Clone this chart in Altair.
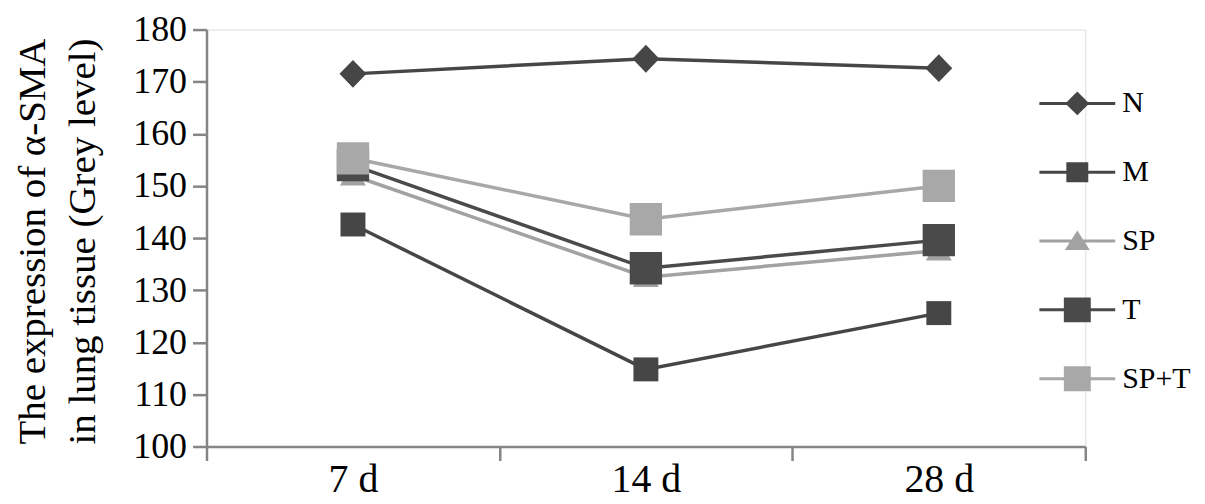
import altair as alt
import pandas as pd

days = ["7 d", "14 d", "28 d"]
series = ["N", "M", "SP", "T", "SP+T"]
vals_N = [171.5, 174.4, 172.6]
vals_M = [142.6, 114.8, 125.6]
vals_SP = [152.0, 132.5, 137.6]
vals_T = [154.0, 134.2, 139.6]
vals_SPT = [155.3, 143.6, 150.0]

colors = ["#464646", "#464646", "#a2a2a2", "#4a4a4a", "#a8a8a8"]

rows = []
for s, vals in zip(series, [vals_N, vals_M, vals_SP, vals_T, vals_SPT]):
    for d, v in zip(days, vals):
        rows.append({"day": d, "series": s, "key": s, "value": v})
df = pd.DataFrame(rows)

# marker shapes on the chart (custom SVG paths, unit = 10px at size 400)
chart_shapes = [
    "M0,-1.4L1.35,0L0,1.4L-1.35,0Z",
    "M-1.25,-1.2H1.25V1.2H-1.25Z",
    "M0,-1.2L1.3,1L-1.3,1Z",
    "M-1.62,-1.62H1.62V1.62H-1.62Z",
    "M-1.62,-1.62H1.62V1.62H-1.62Z",
]
seg = "M-3.8,-0.15H3.8V0.15H-3.8Z "
legend_shapes = [
    seg + "M0,-1.2L1.2,0L0,1.2L-1.2,0Z",
    seg + "M-1.1,-1H1.1V1H-1.1Z",
    seg + "M0,-1.05L1.25,0.9L-1.25,0.9Z",
    seg + "M-1.35,-1.25H1.35V1.25H-1.35Z",
    seg + "M-1.35,-1.25H1.35V1.25H-1.35Z",
]

FONT = "Liberation Serif"

x_enc = alt.X(
    "day:N",
    sort=days,
    scale=alt.Scale(type="band", paddingInner=0, paddingOuter=0),
    axis=alt.Axis(
        title=None, labelAngle=0, labelFont=FONT, labelFontSize=40,
        labelColor="#000000", labelPadding=-1, tickBand="extent",
        tickSize=14, tickColor="#858585", tickWidth=2.5,
        domainColor="#858585", domainWidth=2.5, grid=False,
    ),
)
y_enc = alt.Y(
    "value:Q",
    scale=alt.Scale(domain=[100, 180], nice=False, zero=False),
    axis=alt.Axis(
        values=list(range(100, 181, 10)),
        title=["The expression of α-SMA", "in lung tissue (Grey level)"],
        titleFont=FONT, titleFontSize=39, titleFontWeight="normal",
        titleColor="#000000", titleLineHeight=50, titleAngle=-90,
        titleX=-154, titleY=212, titleAlign="center", titleBaseline="bottom",
        labelFont=FONT, labelFontSize=36, labelColor="#000000",
        labelPadding=6, tickSize=14, tickColor="#858585", tickWidth=2.5,
        domainColor="#858585", domainWidth=2.5, grid=False,
    ),
)

color_main = alt.Color("series:N", scale=alt.Scale(domain=series, range=colors), legend=None)

lines = alt.Chart(df).mark_line(strokeWidth=3.5).encode(
    x=x_enc, y=y_enc, color=color_main, detail="series:N"
)

points = alt.Chart(df).mark_point(filled=True, size=400, opacity=1, strokeWidth=0).encode(
    x=x_enc, y=y_enc, color=color_main,
    shape=alt.Shape("series:N", scale=alt.Scale(domain=series, range=chart_shapes), legend=None),
)

leg = alt.Chart(df).transform_filter("false").mark_point(
    filled=True, size=400, opacity=1, strokeWidth=0
).encode(
    color=alt.Color("key:N", scale=alt.Scale(domain=series, range=colors), legend=alt.Legend(
        title=None, orient="none", legendX=858, legendY=59, padding=0,
        labelFont=FONT, labelFontSize=30, labelColor="#000000",
        labelOffset=30, rowPadding=39, symbolStrokeWidth=0, symbolOpacity=1,
        symbolSize=400,
    )),
    shape=alt.Shape("key:N", scale=alt.Scale(domain=series, range=legend_shapes)),
)

chart = alt.layer(lines, points, leg).resolve_scale(
    color="independent", shape="independent"
).properties(
    width=881, height=418,
    autosize=alt.AutoSizeParams(type="none"),
    padding={"left": 199, "top": 21, "right": 112, "bottom": 56},
).configure_view(stroke=None).configure(background="white")

chart.save("out.html", embed_options={"renderer": "svg", "actions": False})
